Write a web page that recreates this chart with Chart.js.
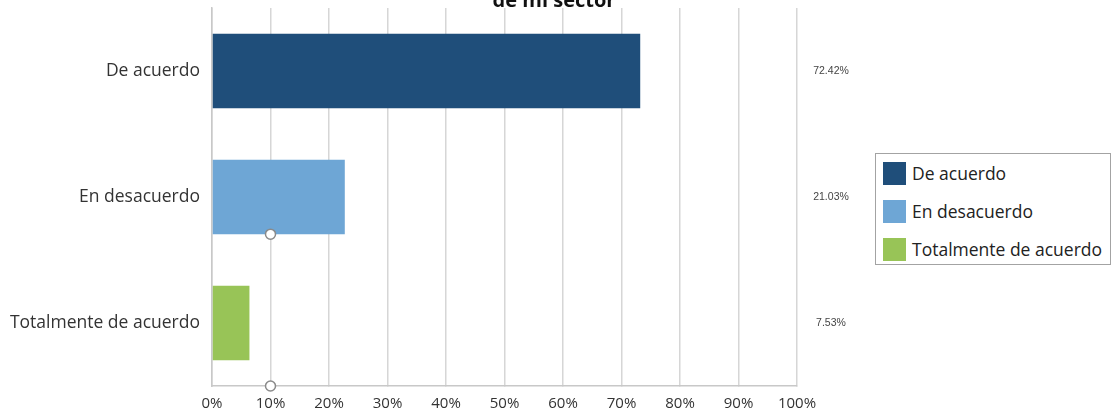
<!DOCTYPE html>
<html>
<head>
<meta charset="utf-8">
<script src="https://cdn.jsdelivr.net/npm/chart.js@4.4.1/dist/chart.umd.min.js"></script>
<style>
  html, body { margin: 0; padding: 0; background: #fff; }
  #wrap { position: relative; width: 1116px; height: 412px; overflow: hidden; }
  #grafico { position: absolute; left: 0; top: 0; }
  #leyenda {
    position: absolute; left: 875px; top: 153px; width: 234px; height: 110px;
    border: 1.5px solid #a3a3a3; background: #fff;
    font-family: "Open Sans", sans-serif; font-size: 17.5px; color: #222;
  }
  .item { position: absolute; left: 7px; height: 24px; line-height: 23px; white-space: nowrap; }
  .item span.caja { display: inline-block; width: 23px; height: 23px; vertical-align: top; margin-right: 6px; }
</style>
</head>
<body>
<div id="wrap">
  <canvas id="grafico" width="1116" height="412"></canvas>
  <div id="leyenda"></div>
</div>
<script>
// ── DATOS ─────────────────────────────────────────────────
const titulo = "de mi sector";
const categorias = ["De acuerdo", "En desacuerdo", "Totalmente de acuerdo"];
const valores = [73.2, 22.7, 6.4];            // largo de las barras (%)
const etiquetas = ["72.42%", "21.03%", "7.53%"]; // texto a la derecha
const colores = ["#1f4e7a", "#6ea6d5", "#98c457"];
const ticksX = [0, 10, 20, 30, 40, 50, 60, 70, 80, 90, 100];

// leyenda en HTML (con recuadro)
const leyenda = document.getElementById("leyenda");
categorias.forEach((nombre, i) => {
  leyenda.innerHTML += `<div class="item" style="top:${8 + i * 38}px"><span class="caja" style="background:${colores[i]}"></span>${nombre}</div>`;
});

// ── PLUGINS ───────────────────────────────────────────────
const extras = {
  id: "extras",
  afterDraw(chart) {
    const { ctx, chartArea, scales } = chart;
    const meta = chart.getDatasetMeta(0);
    ctx.save();

    // titulo cortado arriba
    ctx.fillStyle = "#111";
    ctx.font = "bold 20px 'Open Sans', sans-serif";
    ctx.textAlign = "center";
    ctx.textBaseline = "alphabetic";
    ctx.fillText(titulo, chart.width / 2 - 4, 7);

    // porcentajes a la derecha
    ctx.fillStyle = "#444";
    ctx.font = "10.5px 'Liberation Sans', Arial, sans-serif";
    ctx.textBaseline = "middle";
    meta.data.forEach((bar, i) => {
      ctx.fillText(etiquetas[i], chartArea.right + 34, bar.y);
    });

    // circulos de seleccion
    const x10 = scales.x.getPixelForValue(10);
    const b = meta.data[1];
    [b.y + b.height / 2, chartArea.bottom].forEach(y => {
      ctx.beginPath();
      ctx.arc(x10, y, 5, 0, Math.PI * 2);
      ctx.fillStyle = "#fff";
      ctx.fill();
      ctx.lineWidth = 1.5;
      ctx.strokeStyle = "#8a8a8a";
      ctx.stroke();
    });
    ctx.restore();
  }
};

// ── GRAFICO ───────────────────────────────────────────────
new Chart(document.getElementById("grafico"), {
  type: "bar",
  data: {
    labels: categorias,
    datasets: [{
      data: valores,
      backgroundColor: colores,
      borderWidth: 0,
      barPercentage: 0.59,
      categoryPercentage: 1,
    }],
  },
  options: {
    indexAxis: "y",
    responsive: false,
    animation: false,
    events: [],
    layout: { padding: { top: 8, right: 319, left: 0, bottom: 0 } },
    plugins: { legend: { display: false }, tooltip: { enabled: false } },
    scales: {
      x: {
        min: 0, max: 100,
        afterBuildTicks: s => { s.ticks = ticksX.map(v => ({ value: v })); },
        afterFit: s => { s.height = 26; },
        grid: { color: "#d6d6d6", lineWidth: 1.5, tickLength: 0 },
        border: { color: "#c8c8c8", width: 1.5 },
        ticks: {
          padding: 9,
          color: "#333",
          font: { family: "Open Sans", size: 15 },
          callback: v => v + "%",
        },
      },
      y: {
        afterFit: s => { s.width = 212; s.paddingTop = 0; s.paddingBottom = 0; },
        grid: { display: false },
        border: { color: "#c8c8c8", width: 1.5 },
        ticks: {
          padding: 4,
          color: "#333",
          font: { family: "Open Sans", size: 17.5 },
        },
      },
    },
  },
  plugins: [extras],
});
</script>
</body>
</html>
